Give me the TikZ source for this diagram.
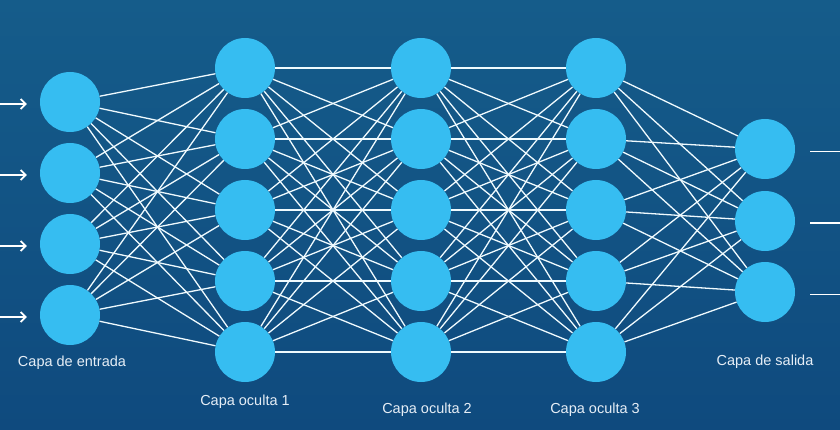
\documentclass[tikz,border=0pt]{standalone}
\usepackage{fontspec}
\setmainfont{Liberation Sans}
\usetikzlibrary{arrows.meta}
\definecolor{netbgtop}{HTML}{155C8A}
\definecolor{netbgbot}{HTML}{0F4A7E}
\definecolor{neuron}{HTML}{36BDF1}
\definecolor{labeltext}{HTML}{E6EEF6}

\begin{document}
\begin{tikzpicture}[
    x=1pt, y=-1pt,
    unit/.style={circle, fill=neuron, minimum size=60pt, inner sep=0pt},
    link/.style={white!92!neuron, line width=1.3pt},
    lbl/.style={font=\fontsize{14.5}{17}\selectfont, text=labeltext},
  ]
  % background
  \useasboundingbox (0,0) rectangle (840,430);
  \shade[top color=netbgtop, bottom color=netbgbot] (0,0) rectangle (840,430);

  % input layer
  \foreach \y [count=\i] in {102,173,244,315}{
    \node[unit] (a\i) at (70,\y) {};
  }
  % hidden layers
  \foreach \y [count=\i] in {68,139,210,281,352}{
    \node[unit] (b\i) at (245,\y) {};
    \node[unit] (c\i) at (421,\y) {};
    \node[unit] (d\i) at (596,\y) {};
  }
  % output layer
  \foreach \y [count=\i] in {149,221,292}{
    \node[unit] (e\i) at (765,\y) {};
  }

  % weights, every unit to every unit of the next layer
  \foreach \i in {1,...,4}{
    \foreach \j in {1,...,5}{
      \draw[link] (a\i) -- (b\j);
    }
  }
  \foreach \i in {1,...,5}{
    \foreach \j in {1,...,5}{
      \draw[link] (b\i) -- (c\j);
      \draw[link] (c\i) -- (d\j);
    }
    \foreach \j in {1,...,3}{
      \draw[link] (d\i) -- (e\j);
    }
  }

  % inputs and outputs
  \foreach \i in {1,...,4}{
    \coordinate (x\i) at (0,{71*\i+33});
    \draw[white, line width=1.7pt, -{Straight Barb[length=5pt,width=10pt]},
          shorten >=13pt] (x\i) -- (a\i.west |- x\i);
  }
  \foreach \i in {1,...,3}{
    \coordinate (y\i) at (840,{71.5*\i+80});
    \draw[white, line width=1.7pt, shorten <=15pt] (e\i.east |- y\i) -- (y\i);
  }

  % layer names
  \node[lbl] (na) at (72,363) {Capa de entrada};
  \node[lbl] (nb) at (245,402) {Capa oculta 1};
  \node[lbl] (nc) at (427,410) {Capa oculta 2};
  \node[lbl] (nd) at (595,410) {Capa oculta 3};
  \node[lbl] (ne) at (765,362) {Capa de salida};
\end{tikzpicture}
\end{document}
